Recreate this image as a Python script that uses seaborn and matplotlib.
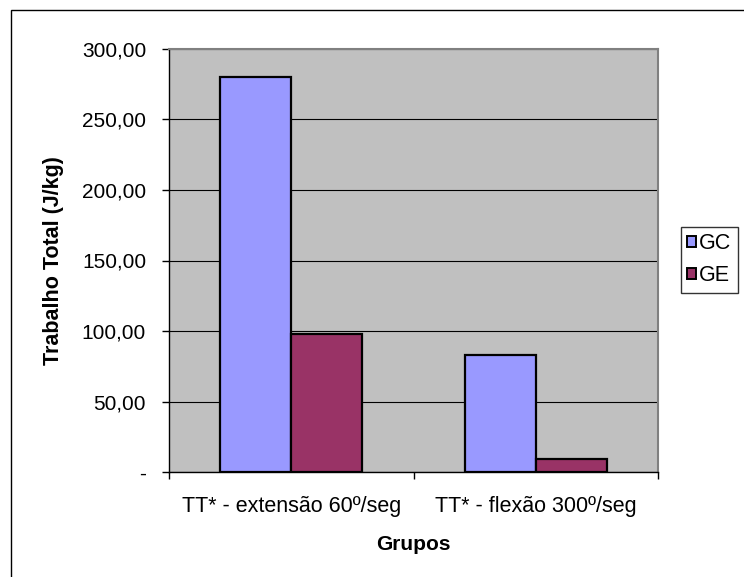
import pandas as pd
import seaborn as sns
import matplotlib.pyplot as plt
from matplotlib.patches import Rectangle, Patch
from matplotlib.ticker import FuncFormatter

# dados
categorias = ['TT* - extensão 60º/seg', 'TT* - flexão 300º/seg']
grupos = ['GC', 'GE']
valores_gc = [280.0, 83.0]
valores_ge = [98.0, 9.5]
cores = {'GC': '#9999FF', 'GE': '#993366'}

df = pd.DataFrame({
    'categoria': categorias * 2,
    'grupo': ['GC'] * len(categorias) + ['GE'] * len(categorias),
    'valor': valores_gc + valores_ge,
})

sns.set_style('white')
plt.rcParams['font.family'] = ['Liberation Sans', 'DejaVu Sans']
plt.rcParams['text.color'] = 'black'
plt.rcParams['axes.labelcolor'] = 'black'
plt.rcParams['xtick.color'] = 'black'
plt.rcParams['ytick.color'] = 'black'

fig = plt.figure(figsize=(7.44, 5.77), dpi=100)
ax = fig.add_axes([169 / 744, 1 - 472 / 577, (658 - 169) / 744, (472 - 49) / 577])

sns.barplot(data=df, x='categoria', y='valor', hue='grupo', palette=cores,
            width=0.58, edgecolor='black', linewidth=1.6, saturation=1,
            ax=ax, zorder=3, legend=False)

ax.set_facecolor('#C0C0C0')
ax.set_ylim(0, 300)
ax.set_xlim(-0.5, 1.5)
ax.set_yticks(range(0, 301, 50))
ax.yaxis.set_major_formatter(FuncFormatter(lambda v, p: '-' if v == 0 else f'{v:.2f}'.replace('.', ',')))
ax.grid(axis='y', color='black', linewidth=0.8, zorder=1)
ax.set_axisbelow(True)

# marcas do eixo x nas fronteiras das categorias
ax.set_xticks([-0.5, 0.5, 1.5], minor=False)
ax.set_xticklabels([])
ax.set_xticks([0, 1], minor=True)
ax.set_xticklabels(categorias, minor=True, fontsize=15.5)
ax.tick_params(axis='x', which='major', direction='out', length=5, width=1, bottom=True)
ax.tick_params(axis='x', which='minor', length=0, pad=17)
ax.tick_params(axis='y', direction='out', length=5, width=1, left=True, labelsize=15, pad=11.5)

for lado in ['left', 'bottom']:
    ax.spines[lado].set_color('black')
    ax.spines[lado].set_linewidth(1)
for lado in ['top', 'right']:
    ax.spines[lado].set_color('#808080')
    ax.spines[lado].set_linewidth(1.5)

ax.set_xlabel('Grupos', fontsize=15, fontweight='bold', labelpad=13)
ax.set_ylabel('Trabalho Total (J/kg)', fontsize=15.5, fontweight='bold', labelpad=13)

handles = [Patch(facecolor=cores[g], edgecolor='black', linewidth=1.4) for g in grupos]
leg = fig.legend(handles, grupos, loc='upper left', bbox_to_anchor=(681 / 744, 1 - 227 / 577),
                 frameon=True, fontsize=15.5, handlelength=0.4, handleheight=0.4,
                 handletextpad=0.15, borderpad=0.3, labelspacing=0.5, fancybox=False,
                 borderaxespad=0)
leg.get_frame().set_edgecolor('black')
leg.get_frame().set_linewidth(1)

fig.add_artist(Rectangle((11 / 744, -0.1), 1.0, 1 - 10 / 577 + 0.1, transform=fig.transFigure,
                         fill=False, edgecolor='black', linewidth=1))

fig.savefig('out.png', dpi=100)
